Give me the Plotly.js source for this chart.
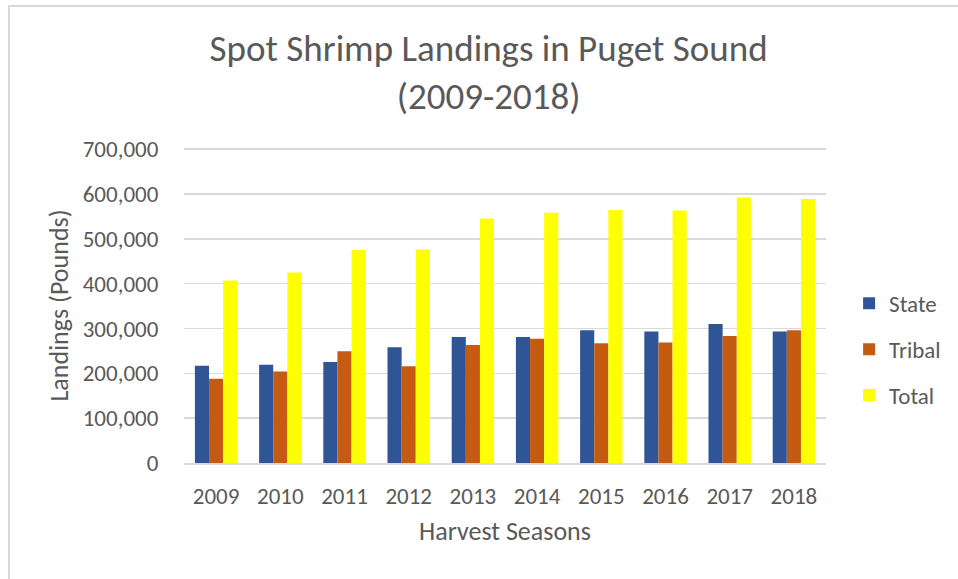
<!DOCTYPE html>
<html>
<head>
<meta charset="utf-8">
<script src="https://cdn.plot.ly/plotly-3.0.1.min.js"></script>
<style>
  html, body { margin: 0; padding: 0; background: #fff; }
  #chart { width: 958px; height: 579px; }
  #frame { position: absolute; left: 8px; top: 5px; width: 960px; height: 600px;
           border-left: 2px solid #D9D9D9; border-top: 2px solid #D9D9D9; pointer-events: none; }
</style>
</head>
<body>
<div id="chart"></div>
<div id="frame"></div>
<script>
const seasons = ['2009','2010','2011','2012','2013','2014','2015','2016','2017','2018'];
const stateVals  = [217000, 219000, 225000, 258000, 281000, 281000, 296000, 293000, 310000, 293000];
const tribalVals = [188000, 204000, 249000, 216000, 263000, 277000, 267000, 269000, 283000, 296000];
const totalVals  = [407000, 425000, 475000, 476000, 545000, 558000, 564000, 563000, 592000, 589000];
const seriesNames = ['State', 'Tribal', 'Total'];
const seriesColors = ['#2F5597', '#C55A11', '#FFFF00'];

const FONT = 'Carlito, Calibri, "Open Sans", sans-serif';
const TXT = '#595959';

const data = [stateVals, tribalVals, totalVals].map((vals, i) => ({
  type: 'bar',
  name: seriesNames[i],
  x: seasons,
  y: vals,
  legendgroup: 'g' + i,
  marker: { color: seriesColors[i], line: { width: 0 } },
  hoverinfo: 'x+y+name'
}));

const layout = {
  width: 958, height: 579,
  margin: { l: 184, r: 132, t: 148, b: 116 },
  paper_bgcolor: '#fff', plot_bgcolor: '#fff',
  font: { family: FONT, color: TXT },
  title: {
    text: 'Spot Shrimp Landings in Puget Sound<br>(2009-2018)',
    font: { family: FONT, size: 37, color: TXT },
    x: 0.51, xanchor: 'center', y: 0.895, yanchor: 'top'
  },
  barmode: 'group',
  bargap: 0.34,
  bargroupgap: 0,
  xaxis: {
    type: 'category',
    showline: true, linecolor: '#D9D9D9', linewidth: 2,
    showgrid: false,
    ticks: 'outside', ticklen: 11, tickcolor: 'rgba(0,0,0,0)',
    tickfont: { family: FONT, size: 23, color: TXT },
    title: { text: 'Harvest Seasons', font: { family: FONT, size: 26, color: TXT }, standoff: 13 }
  },
  yaxis: {
    range: [0, 702500], dtick: 100000, tickformat: ',d',
    showgrid: true, gridcolor: '#D9D9D9', gridwidth: 1.5,
    zeroline: false, showline: false,
    ticks: 'outside', ticklen: 20, tickcolor: 'rgba(0,0,0,0)',
    tickfont: { family: FONT, size: 23, color: TXT },
    title: { text: 'Landings (Pounds)', font: { family: FONT, size: 26, color: TXT }, standoff: 6 }
  },
  showlegend: true,
  legend: {
    x: 1.036, xanchor: 'left', y: 0.361, yanchor: 'middle',
    font: { family: FONT, size: 23, color: TXT },
    tracegroupgap: 13, itemwidth: 30, traceorder: 'grouped'
  }
};

Plotly.newPlot('chart', data, layout, { displayModeBar: false, staticPlot: true });
</script>
</body>
</html>
